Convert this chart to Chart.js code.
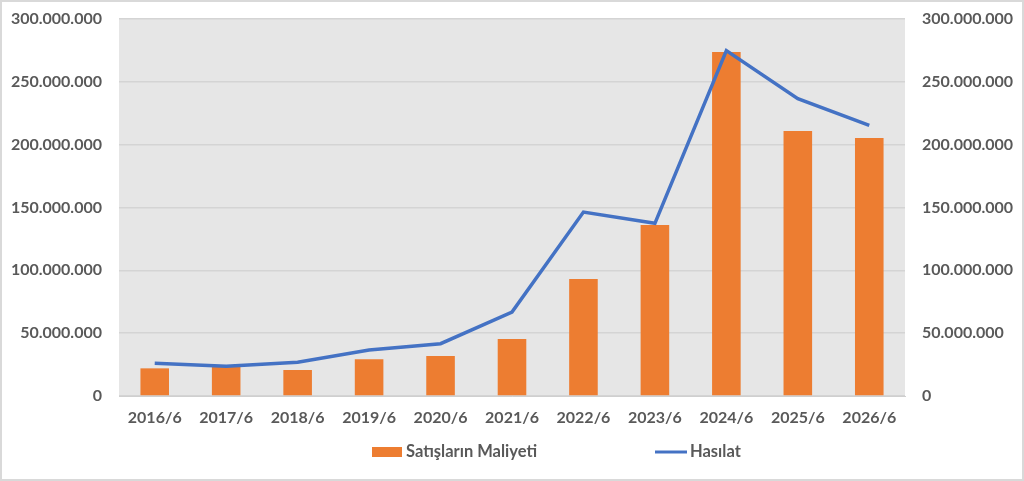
<!DOCTYPE html>
<html>
<head>
<meta charset="utf-8">
<script src="https://cdn.jsdelivr.net/npm/chart.js@4.4.1/dist/chart.umd.min.js"></script>
<style>
  html, body { margin: 0; padding: 0; background: #fff; }
  #wrap { width: 1024px; height: 481px; position: relative; }
</style>
</head>
<body>
<div id="wrap"><canvas id="myChart"></canvas></div>
<script>
const years = ['2016/6', '2017/6', '2018/6', '2019/6', '2020/6', '2021/6', '2022/6', '2023/6', '2024/6', '2025/6', '2026/6'];
const maliyet = [22000000, 23300000, 20700000, 29200000, 31800000, 45400000, 93100000, 136100000, 273700000, 210900000, 205300000];
const hasilat = [26000000, 23600000, 26800000, 36600000, 41600000, 66800000, 146400000, 137400000, 274800000, 236600000, 215400000];
const yTicks = [0, 50000000, 100000000, 150000000, 200000000, 250000000, 300000000];

const textColor = '#595959';
const fontFamily = 'Lato, "Open Sans", sans-serif';

function fmt(v) {
    return String(v).replace(/\B(?=(\d{3})+(?!\d))/g, '.');
}

// gray plot background + outer frame + legend drawn at bottom
const decor = {
    id: 'decor',
    beforeDraw(chart) {
        const a = chart.chartArea;
        const ctx = chart.ctx;
        ctx.save();
        ctx.fillStyle = '#e6e6e6';
        ctx.fillRect(a.left, a.top, a.right - a.left, a.bottom - a.top);
        ctx.restore();
    },
    afterDraw(chart) {
        const ctx = chart.ctx;
        ctx.save();
        ctx.strokeStyle = '#d9d9d9';
        ctx.lineWidth = 2;
        ctx.strokeRect(1, 1, chart.width - 2, chart.height - 2);

        const ds = chart.data.datasets;
        ctx.font = 'bold 16.5px ' + fontFamily;
        ctx.textBaseline = 'middle';
        // bar item
        ctx.fillStyle = ds[0].backgroundColor;
        ctx.fillRect(372, 447, 30, 10);
        ctx.fillStyle = textColor;
        ctx.fillText(ds[0].label, 406, 452);
        // line item
        ctx.strokeStyle = ds[1].borderColor;
        ctx.lineWidth = 3;
        ctx.beginPath();
        ctx.moveTo(655, 452);
        ctx.lineTo(687, 452);
        ctx.stroke();
        ctx.fillText(ds[1].label, 690, 452);
        ctx.restore();
    }
};

function fitY(s) {
    s.width = 119;
    s.paddingTop = 0;
    s.paddingBottom = 0;
}

const yCommon = {
    min: 0,
    max: 300000000,
    afterBuildTicks: s => { s.ticks = yTicks.map(v => ({ value: v })); },
    ticks: {
        color: textColor,
        padding: 17,
        font: { family: fontFamily, size: 16, weight: 'bold' },
        callback: v => fmt(v)
    },
    border: { display: false },
    afterFit: fitY
};

new Chart(document.getElementById('myChart'), {
    data: {
        labels: years,
        datasets: [
            {
                type: 'bar',
                label: 'Satışların Maliyeti',
                data: maliyet,
                backgroundColor: '#ed7d31',
                categoryPercentage: 1,
                barPercentage: 0.4,
                yAxisID: 'y',
                order: 1
            },
            {
                type: 'line',
                label: 'Hasılat',
                data: hasilat,
                borderColor: '#4472c4',
                backgroundColor: '#4472c4',
                borderWidth: 3.5,
                pointRadius: 0,
                tension: 0,
                yAxisID: 'y',
                order: 0
            }
        ]
    },
    options: {
        responsive: true,
        maintainAspectRatio: false,
        animation: false,
        layout: { padding: { top: 19, left: 0, right: 0, bottom: 0 } },
        plugins: {
            legend: { display: false },
            tooltip: { enabled: false }
        },
        scales: {
            x: {
                grid: { display: false, drawTicks: false },
                border: { display: true, color: '#cfcfcf', width: 1 },
                ticks: {
                    color: textColor,
                    padding: 12,
                    font: { family: fontFamily, size: 16, weight: 'bold' }
                },
                afterFit: s => { s.height = 85; }
            },
            y: Object.assign({}, yCommon, {
                position: 'left',
                grid: { color: '#d4d4d4', lineWidth: 1.5, drawTicks: false }
            }),
            y2: Object.assign({}, yCommon, {
                position: 'right',
                grid: { display: false, drawTicks: false }
            })
        }
    },
    plugins: [decor]
});
</script>
</body>
</html>
